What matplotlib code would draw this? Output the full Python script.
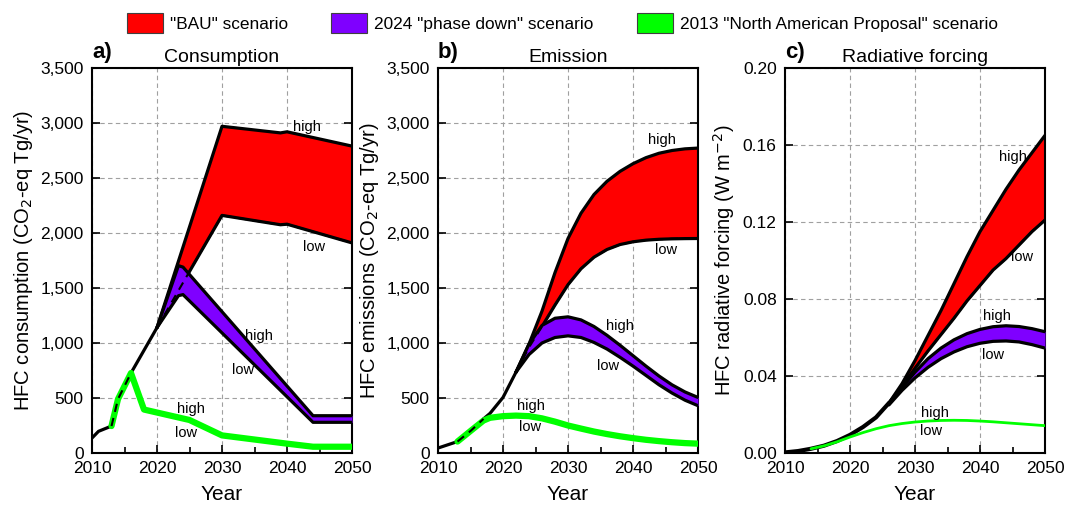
import matplotlib
matplotlib.use('Agg')
import matplotlib.pyplot as plt
from matplotlib.patches import Patch
from matplotlib.ticker import FuncFormatter, MultipleLocator

plt.rcParams['font.family'] = ['Liberation Sans', 'DejaVu Sans']
plt.rcParams['lines.solid_joinstyle'] = 'round'
plt.rcParams['lines.solid_capstyle'] = 'round'

# colores
rojo = '#ff0000'
violeta = '#7f00ff'
verde = '#00ff00'

# ---------------- a) Consumption ----------------
a_hist_anios = [2010, 2011, 2013]
a_hist = [136, 197, 245]
a_hist_guion_anios = [2013, 2014, 2016]
a_hist_guion = [245, 490, 727]
a_comun_anios = [2016, 2020]
a_comun = [727, 1140]
a_bau_anios = [2020, 2030, 2039, 2040, 2050]
a_bau_high = [1140, 2970, 2910, 2920, 2790]
a_bau_low = [1140, 2160, 2075, 2080, 1910]
a_pd_anios = [2020, 2023.3, 2024, 2044, 2050]
a_pd_high = [1140, 1703, 1690, 339, 339]
a_pd_low = [1140, 1430, 1440, 279, 279]
a_nap_anios = [2013, 2014, 2016, 2018, 2025, 2030, 2040, 2044, 2050]
a_nap = [245, 490, 727, 395, 300, 160, 85, 57, 57]

# ---------------- b) Emission ----------------
b_hist_anios = [2010, 2013]
b_hist = [45, 104]
b_hist_guion_anios = [2013, 2015, 2017]
b_hist_guion = [104, 200, 310]
b_comun_anios = [2017, 2018, 2020, 2022]
b_comun = [310, 360, 505, 735]
b_anios = [2022, 2024, 2026, 2028, 2030, 2032, 2034, 2036, 2038, 2040, 2042, 2044, 2046, 2048, 2050]
b_bau_high = [735, 990, 1290, 1640, 1950, 2180, 2350, 2470, 2560, 2630, 2685, 2725, 2750, 2765, 2772]
b_bau_low = [735, 960, 1150, 1345, 1530, 1675, 1780, 1850, 1895, 1920, 1935, 1943, 1947, 1949, 1950]
b_pd_high = [735, 990, 1160, 1225, 1238, 1210, 1150, 1070, 980, 885, 790, 700, 620, 555, 505]
b_pd_low = [735, 895, 1000, 1050, 1065, 1050, 1005, 945, 870, 790, 705, 620, 545, 480, 430]
b_nap_anios = [2013, 2015, 2017, 2018, 2020, 2022, 2024, 2026, 2028, 2030, 2032, 2034, 2036, 2038,
               2040, 2042, 2044, 2046, 2048, 2050]
b_nap = [104, 200, 295, 320, 335, 340, 335, 315, 285, 250, 222, 195, 172, 152, 135, 120, 108, 98, 90, 85]

# ---------------- c) Radiative forcing ----------------
c_comun_anios = [2010, 2012, 2014, 2016, 2018, 2020, 2022, 2024, 2026]
c_comun = [0.0003, 0.0010, 0.0022, 0.0038, 0.0062, 0.0094, 0.0135, 0.0185, 0.026]
c_anios = [2026, 2028, 2030, 2032, 2034, 2036, 2038, 2040, 2042, 2044, 2046, 2048, 2050]
c_bau_high = [0.026, 0.036, 0.048, 0.061, 0.074, 0.088, 0.102, 0.115, 0.126, 0.137, 0.147, 0.156, 0.165]
c_bau_low = [0.026, 0.0345, 0.044, 0.053, 0.0615, 0.070, 0.079, 0.087, 0.095, 0.101, 0.108, 0.115, 0.121]
c_pd_high = [0.026, 0.034, 0.042, 0.049, 0.0545, 0.0588, 0.062, 0.0642, 0.0656, 0.0661, 0.0657, 0.0646, 0.063]
c_pd_low = [0.025, 0.0325, 0.039, 0.0445, 0.049, 0.0525, 0.0552, 0.057, 0.058, 0.0582, 0.0577, 0.0563, 0.0545]
c_nap_anios = [2014, 2016, 2018, 2020, 2022, 2024, 2026, 2028, 2030, 2032, 2034, 2036, 2038, 2040,
               2042, 2044, 2046, 2048, 2050]
c_nap = [0.0022, 0.0037, 0.0058, 0.0083, 0.0106, 0.0126, 0.0142, 0.0153, 0.0161, 0.0166, 0.0169, 0.0170,
         0.0169, 0.0166, 0.0162, 0.0157, 0.0152, 0.0147, 0.0142]

# etiquetas high/low: (x, y, texto)
a_etiquetas = [(2043, 2963, 'high'), (2044.2, 1873, 'low'), (2035.7, 1060, 'high'), (2033.2, 757, 'low'),
               (2025.2, 400, 'high'), (2024.4, 179, 'low')]
b_etiquetas = [(2044.4, 2848, 'high'), (2045.1, 1842, 'low'), (2038, 1151, 'high'), (2036.2, 788, 'low'),
               (2024.3, 424, 'high'), (2024.1, 236, 'low')]
c_etiquetas = [(2045, 0.154, 'high'), (2046.4, 0.102, 'low'), (2042.6, 0.0712, 'high'), (2042, 0.051, 'low'),
               (2033, 0.021, 'high'), (2032.5, 0.0116, 'low')]

fig = plt.figure(figsize=(10.65, 5.05), dpi=100)
ancho = 260 / 1065
alto = 385 / 505
abajo = 1 - 453 / 505
ax_a = fig.add_axes([92 / 1065, abajo, ancho, alto])
ax_b = fig.add_axes([438 / 1065, abajo, ancho, alto])
ax_c = fig.add_axes([785 / 1065, abajo, ancho, alto])

lw = 2.3


def bandas(ax, anios_bau, bau_high, bau_low, anios_pd, pd_high, pd_low):
    ax.fill_between(anios_bau, bau_low, bau_high, color=rojo, lw=0, zorder=2)
    ax.plot(anios_bau, bau_high, color='k', lw=lw, zorder=3)
    ax.plot(anios_bau, bau_low, color='k', lw=lw, zorder=3)
    ax.fill_between(anios_pd, pd_low, pd_high, color=violeta, lw=0, zorder=4)
    ax.plot(anios_pd, pd_high, color='k', lw=lw, zorder=5)
    ax.plot(anios_pd, pd_low, color='k', lw=lw, zorder=5)
    ax.plot(anios_bau, bau_low, color='k', lw=1.5, ls=(0, (4, 3)), zorder=6)


def formato(ax, titulo, letra, ylabel, ymax, paso, fmt):
    ax.set_xlim(2010, 2050)
    ax.set_ylim(0, ymax)
    ax.xaxis.set_major_locator(MultipleLocator(10))
    ax.xaxis.set_minor_locator(MultipleLocator(5))
    ax.yaxis.set_major_locator(MultipleLocator(paso))
    ax.yaxis.set_major_formatter(FuncFormatter(fmt))
    ax.tick_params(which='both', direction='in', right=True, labelsize=12.5, width=1.2)
    ax.tick_params(which='major', length=6, pad=6)
    ax.tick_params(which='minor', length=4)
    ax.grid(True, which='major', ls=(0, (4, 3)), color='#a0a0a0', lw=0.8)
    for s in ax.spines.values():
        s.set_linewidth(1.5)
    ax.set_xlabel('Year', fontsize=15, labelpad=6)
    ax.set_ylabel(ylabel, fontsize=14.5, labelpad=4)
    ax.set_title(titulo, fontsize=14, pad=4)
    ax.text(0.0, 1.012, letra, transform=ax.transAxes, fontsize=16, fontweight='bold',
            ha='left', va='bottom')


def etiquetas(ax, lista):
    for x, y, t in lista:
        ax.text(x, y, t, fontsize=10.5, ha='center', va='center', zorder=8)


coma = lambda v, p: f'{int(v):,}'
dec = lambda v, p: f'{v:.2f}'

# a)
ax_a.plot(a_hist_anios, a_hist, color='k', lw=lw, zorder=3)
ax_a.plot(a_comun_anios, a_comun, color='k', lw=lw, zorder=3)
bandas(ax_a, a_bau_anios, a_bau_high, a_bau_low, a_pd_anios, a_pd_high, a_pd_low)
ax_a.plot(a_nap_anios, a_nap, color=verde, lw=4.5, zorder=6)
ax_a.plot(a_hist_guion_anios, a_hist_guion, color='k', lw=1.5, ls=(0, (4, 3)), zorder=7)
etiquetas(ax_a, a_etiquetas)
formato(ax_a, 'Consumption', 'a)', 'HFC consumption (CO$_2$-eq Tg/yr)', 3500, 500, coma)

# b)
ax_b.plot(b_hist_anios, b_hist, color='k', lw=lw, zorder=3)
ax_b.plot(b_comun_anios, b_comun, color='k', lw=lw, zorder=3)
bandas(ax_b, b_anios, b_bau_high, b_bau_low, b_anios, b_pd_high, b_pd_low)
ax_b.plot(b_nap_anios, b_nap, color=verde, lw=4.5, zorder=6)
ax_b.plot(b_hist_guion_anios, b_hist_guion, color='k', lw=1.5, ls=(0, (4, 3)), zorder=7)
etiquetas(ax_b, b_etiquetas)
formato(ax_b, 'Emission', 'b)', 'HFC emissions (CO$_2$-eq Tg/yr)', 3500, 500, coma)

# c)
ax_c.plot(c_comun_anios, c_comun, color='k', lw=3, zorder=3)
bandas(ax_c, c_anios, c_bau_high, c_bau_low, c_anios, c_pd_high, c_pd_low)
ax_c.plot(c_nap_anios, c_nap, color=verde, lw=2, zorder=6)
etiquetas(ax_c, c_etiquetas)
formato(ax_c, 'Radiative forcing', 'c)', 'HFC radiative forcing (W m$^{-2}$)', 0.20, 0.04, dec)

manijas = [Patch(facecolor=rojo, edgecolor='#404040', lw=0.8, label='"BAU" scenario'),
           Patch(facecolor=violeta, edgecolor='#404040', lw=0.8, label='2024 "phase down" scenario'),
           Patch(facecolor=verde, edgecolor='#404040', lw=0.8, label='2013 "North American Proposal" scenario')]
fig.legend(handles=manijas, loc='upper center', bbox_to_anchor=(0.528, 1.005), ncol=3, frameon=False,
           fontsize=12.4, handlelength=2.1, handleheight=1.4, handletextpad=0.4, columnspacing=2.5)

fig.savefig('out.png', dpi=100)
